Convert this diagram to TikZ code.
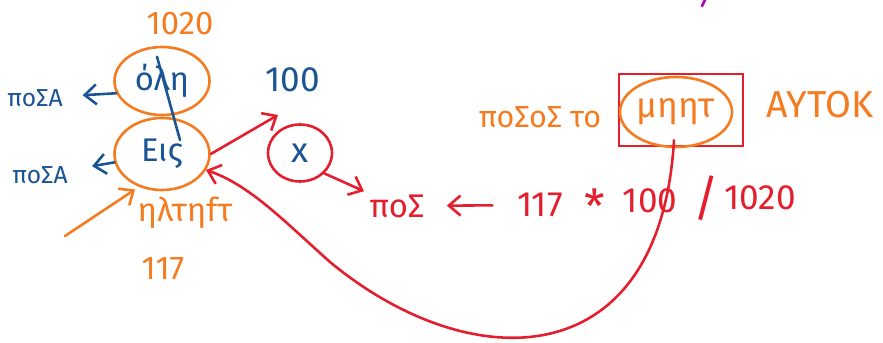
\documentclass[tikz,border=0pt]{standalone}
\usepackage{fontspec}
\setmainfont{Fira Sans}
\usepackage{tikz}
\usetikzlibrary{positioning,arrows.meta,calc,shapes.geometric}
\definecolor{inkblue}{HTML}{1B5494}
\definecolor{inkorange}{HTML}{F47B20}
\definecolor{inkred}{HTML}{E41E2D}
\definecolor{inkpurple}{HTML}{B000C0}

\begin{document}
\begin{tikzpicture}[x=0.03cm,y=-0.03cm,
  every node/.style={inner sep=1pt},
  hand/.style={font=\fontsize{#1}{#1}\selectfont},
  ring/.style={draw=inkorange,ellipse,line width=2.2pt,inner sep=0pt},
  redring/.style={draw=inkred,ellipse,line width=2.2pt,inner sep=0pt},
  arr/.style={-{Straight Barb[length=3.5mm,width=6mm]},line width=2.2pt,line cap=round},
  stroke/.style={line width=2.2pt,line cap=round}
]
  \useasboundingbox (0,0) rectangle (883,343);

  % left part: whole and one
  \node[hand=28,text=inkorange] (top1020) at (180,24) {1020};
  \node[ring,minimum width=2.85cm,minimum height=2.04cm,hand=28,text=inkblue] (olh) at (162,81) {όλη};
  \node[ring,minimum width=2.85cm,minimum height=2.16cm,hand=28,text=inkblue] (eis) at (162,154) {Εις};
  \node[hand=21,text=inkblue] (posa1) at (35,98) {ποΣΑ};
  \node[hand=21,text=inkblue] (posa2) at (40,175) {ποΣΑ};
  \node[hand=28,text=inkorange] (ilt) at (185,213) {ηλτηfτ};
  \node[hand=28,text=inkorange] (n117b) at (163,269) {117};
  \coordinate (orstart) at (65,236);

  \draw[arr,inkblue,shorten >=16pt] (olh.195) -- (posa1);
  \draw[arr,inkblue,shorten >=20pt] (eis.190) -- (posa2);
  \draw[stroke,inkblue] ($(olh.north)+(-5,11)$) -- ($(eis.center)+(18,-14)$);
  \draw[arr,inkorange,shorten >=4pt] (orstart) -- (eis.235);

  % middle: unknown and the rule of three
  \node[hand=30,text=inkblue] (n100) at (293,80) {100};
  \node[redring,minimum width=1.92cm,minimum height=1.71cm,hand=30,text=inkblue] (xc) at (300,153) {x};
  \coordinate (tip100) at (278,115);
  \draw[arr,inkred] (eis.east) -- (tip100);

  \node[hand=28,text=inkred] (pos) at (397,206) {ποΣ};
  \node[hand=30,text=inkred] (n117) at (540,205) {117};
  \node[hand=40,text=inkred] (star) at (595,206) {\raisebox{-0.3em}{*}};
  \node[hand=30,text=inkred] (n100b) at (650,201) {100};
  \node[hand=42,text=inkred] (slash) at (706,198) {/};
  \node[hand=30,text=inkred] (n1020) at (760,198) {1020};
  \draw[arr,inkred,shorten >=4pt] (xc.-40) -- (pos);
  \draw[arr,inkred,shorten <=20pt,shorten >=18pt] (n117) -- (pos);

  % right part: percentage
  \node[hand=26,text=inkorange] (posost) at (540,117) {ποΣοΣ το};
  \node[draw=inkred,line width=2.2pt,minimum width=3.72cm,minimum height=2.16cm] (box) at (681,110) {};
  \node[ring,minimum width=3.36cm,minimum height=2.1cm,hand=30,text=inkorange] (mhp) at (676,112) {μηητ};
  \node[hand=32,text=inkorange] (autok) at (820,105) {ΑΥΤΟΚ};

  \draw[arr,inkred] ($(mhp.south)+(-2,-8)$) .. controls (660,378) and (470,378) .. (330,262)
    .. controls (285,222) and (250,185) .. (eis.-20);

  \draw[stroke,inkpurple] (705,0) -- (702,6);
\end{tikzpicture}
\end{document}
